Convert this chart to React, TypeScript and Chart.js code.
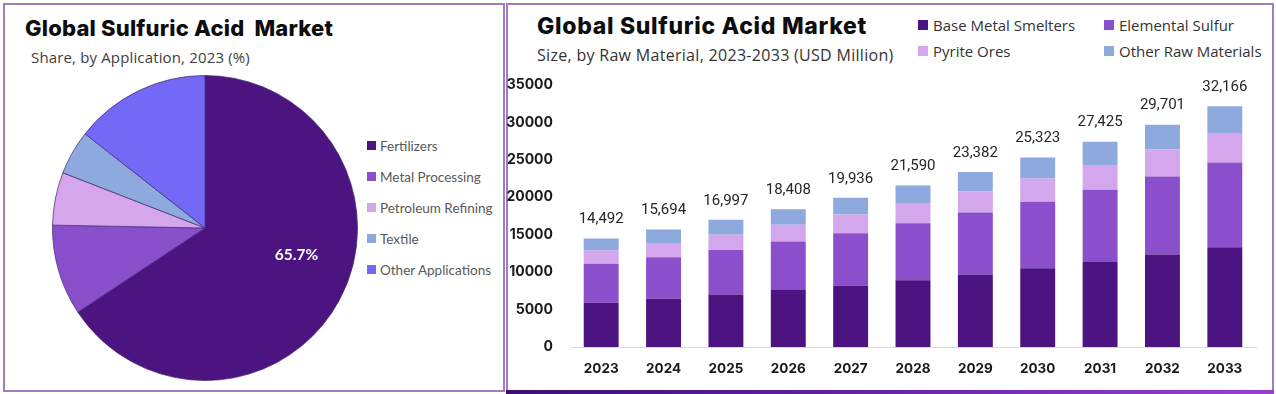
import React, { useEffect, useRef } from "react";
import { Chart, registerables } from "chart.js";

Chart.register(...registerables);

// ---------- Data ----------
const pieLabels = ["Fertilizers", "Metal Processing", "Petroleum Refining", "Textile", "Other Applications"];
const pieShares = [65.7, 9.6, 5.6, 4.7, 14.4];
const pieColors = ["#4b1480", "#8a4fcb", "#d5a6ea", "#8da9dd", "#7468f7"];
const pieLabelText = "65.7%";

const years = ["2023", "2024", "2025", "2026", "2027", "2028", "2029", "2030", "2031", "2032", "2033"];
const baseMetalSmelters = [5918, 6453, 7000, 7600, 8194, 8920, 9670, 10506, 11350, 12360, 13340];
const elementalSulfur = [5187, 5543, 5960, 6480, 7018, 7620, 8300, 8890, 9653, 10420, 11320];
const pyriteOres = [1800, 1894, 2020, 2250, 2472, 2610, 2790, 3098, 3325, 3600, 3830];
const otherRawMaterials = [1587, 1804, 2017, 2078, 2252, 2440, 2622, 2829, 3097, 3321, 3676];
const totals = [14492, 15694, 16997, 18408, 19936, 21590, 23382, 25323, 27425, 29701, 32166];
const barSeriesNames = ["Base Metal Smelters", "Elemental Sulfur", "Pyrite Ores", "Other Raw Materials"];
const barColors = ["#4b1480", "#8b4fcc", "#d4a6eb", "#8ea9dd"];
const yTicks = [0, 5000, 10000, 15000, 20000, 25000, 30000, 35000];

const TITLE_FONT = "Inter, 'Open Sans', sans-serif";
const BODY_FONT = "'Open Sans', Roboto, sans-serif";
const NUM_FONT = "Roboto, 'Open Sans', sans-serif";
const LEGEND_FONT = "Lato, 'Open Sans', sans-serif";

export default function App() {
  const pieRef = useRef<HTMLCanvasElement | null>(null);
  const barRef = useRef<HTMLCanvasElement | null>(null);

  useEffect(() => {
    const pieLabelPlugin = {
      id: "pieLabel",
      afterDatasetsDraw(chart: any) {
        const arc = chart.getDatasetMeta(0).data[0] as any;
        if (!arc) return;
        const { x, y, startAngle, endAngle, outerRadius } = arc.getProps(["x", "y", "startAngle", "endAngle", "outerRadius"], true);
        const a = startAngle + 0.45 * (endAngle - startAngle);
        const r = outerRadius * 0.625;
        const ctx = chart.ctx;
        ctx.save();
        ctx.fillStyle = "#ffffff";
        ctx.font = `bold 15.5px ${LEGEND_FONT}`;
        ctx.textAlign = "center";
        ctx.textBaseline = "middle";
        ctx.fillText(pieLabelText, x + Math.cos(a) * r, y + Math.sin(a) * r);
        ctx.restore();
      },
    };

    const pie = new Chart(pieRef.current as HTMLCanvasElement, {
      type: "pie",
      data: {
        labels: pieLabels,
        datasets: [
          {
            data: pieShares,
            backgroundColor: pieColors,
            borderColor: "rgba(70,45,120,0.75)",
            borderWidth: 1,
          },
        ],
      },
      options: {
        responsive: false,
        maintainAspectRatio: false,
        animation: false,
        layout: { padding: 0 },
        plugins: { legend: { display: false }, tooltip: { enabled: false } },
      },
      plugins: [pieLabelPlugin],
    });

    const totalsPlugin = {
      id: "totals",
      afterDatasetsDraw(chart: any) {
        const meta = chart.getDatasetMeta(3);
        const ctx = chart.ctx;
        ctx.save();
        ctx.fillStyle = "#262626";
        ctx.font = `15px ${NUM_FONT}`;
        ctx.textAlign = "center";
        ctx.textBaseline = "middle";
        meta.data.forEach((el: any, i: number) => {
          ctx.fillText(totals[i].toLocaleString("en-US"), el.x, el.y - 19);
        });
        ctx.restore();
      },
    };

    const seriesValues = [baseMetalSmelters, elementalSulfur, pyriteOres, otherRawMaterials];
    const bar = new Chart(barRef.current as HTMLCanvasElement, {
      type: "bar",
      data: {
        labels: years,
        datasets: seriesValues.map((vals, i) => ({
          label: barSeriesNames[i],
          data: vals,
          backgroundColor: barColors[i],
          borderWidth: 0,
          categoryPercentage: 1,
          barPercentage: 0.56,
          stack: "s",
        })),
      },
      options: {
        responsive: false,
        maintainAspectRatio: false,
        animation: false,
        layout: { padding: { top: 15, right: 16, bottom: 0, left: 0 } },
        plugins: { legend: { display: false }, tooltip: { enabled: false } },
        scales: {
          x: {
            stacked: true,
            grid: { display: false, drawTicks: false },
            border: { display: true, color: "#d9d9d9", width: 1 },
            ticks: {
              padding: 14,
              color: "#1a1a1a",
              font: { family: TITLE_FONT, size: 13.5, weight: "bold" },
            },
            afterFit(scale: any) {
              scale.height = 43;
              scale.paddingLeft = 0;
              scale.paddingRight = 0;
            },
          },
          y: {
            stacked: true,
            min: 0,
            max: 35000,
            afterBuildTicks(scale: any) {
              scale.ticks = yTicks.map((v) => ({ value: v }));
            },
            grid: { display: false, drawTicks: false },
            border: { display: false },
            ticks: {
              padding: 17,
              color: "#1a1a1a",
              font: { family: TITLE_FONT, size: 14, weight: "bold" },
              callback: (v: any) => String(v),
            },
            afterFit(scale: any) {
              scale.width = 64;
              scale.paddingTop = 0;
              scale.paddingBottom = 0;
            },
          },
        },
      },
      plugins: [totalsPlugin],
    });

    return () => {
      pie.destroy();
      bar.destroy();
    };
  }, []);

  const sq = (color: string, size: number, gap: number) => (
    <span
      style={{
        display: "inline-block",
        width: size,
        height: size,
        background: color,
        marginRight: gap,
        verticalAlign: "middle",
      }}
    />
  );

  return (
    <div
      style={{
        position: "absolute",
        left: 0,
        top: 0,
        width: 1276,
        height: 394,
        background: "#ffffff",
        overflow: "hidden",
      }}
    >
      {/* Left panel */}
      <div
        style={{
          position: "absolute",
          left: 3,
          top: 3,
          width: 502,
          height: 389,
          boxSizing: "border-box",
          border: "2px solid #a27cc2",
        }}
      />
      <div
        style={{
          position: "absolute",
          left: 25,
          top: 14,
          fontFamily: TITLE_FONT,
          fontWeight: 800,
          fontSize: 22,
          letterSpacing: 0.2,
          color: "#0d0d0d",
          whiteSpace: "pre",
          lineHeight: "28px",
        }}
      >
        {"Global Sulfuric Acid  Market"}
      </div>
      <div
        style={{
          position: "absolute",
          left: 31,
          top: 46,
          fontFamily: BODY_FONT,
          fontSize: 15,
          letterSpacing: 0.15,
          color: "#404040",
          whiteSpace: "pre",
          lineHeight: "22px",
        }}
      >
        Share, by Application, 2023 (%)
      </div>
      <canvas
        ref={pieRef}
        width={306}
        height={306}
        style={{ position: "absolute", left: 52, top: 75 }}
      />
      {pieLabels.map((lab, i) => (
        <div
          key={lab}
          style={{
            position: "absolute",
            left: 367,
            top: 146 + i * 31 - 12,
            height: 20,
            lineHeight: "20px",
            fontFamily: LEGEND_FONT,
            fontSize: 13.5,
            color: "#595959",
            whiteSpace: "pre",
          }}
        >
          {sq(pieColors[i], 9, 4)}
          <span style={{ verticalAlign: "middle" }}>{lab}</span>
        </div>
      ))}

      {/* Right panel */}
      <div
        style={{
          position: "absolute",
          left: 506,
          top: 3,
          width: 768,
          height: 391,
          boxSizing: "border-box",
          border: "2px solid #a27cc2",
          borderBottom: "none",
        }}
      />
      <div
        style={{
          position: "absolute",
          left: 506,
          top: 390,
          width: 768,
          height: 4,
          background: "linear-gradient(90deg, #3c0f6e 0%, #6a23a8 50%, #9a3fd0 100%)",
        }}
      />
      <div
        style={{
          position: "absolute",
          left: 537,
          top: 11,
          fontFamily: TITLE_FONT,
          fontWeight: 800,
          fontSize: 23,
          letterSpacing: 0.7,
          color: "#0d0d0d",
          whiteSpace: "pre",
          lineHeight: "30px",
        }}
      >
        Global Sulfuric Acid Market
      </div>
      <div
        style={{
          position: "absolute",
          left: 537,
          top: 44,
          fontFamily: BODY_FONT,
          fontSize: 16,
          letterSpacing: 0.3,
          color: "#333333",
          whiteSpace: "pre",
          lineHeight: "22px",
        }}
      >
        Size, by Raw Material, 2023-2033 (USD Million)
      </div>
      {barSeriesNames.map((name, i) => (
        <div
          key={name}
          style={{
            position: "absolute",
            left: i % 2 === 0 ? 918 : 1104,
            top: (i < 2 ? 25.5 : 51.5) - 12.5,
            height: 20,
            lineHeight: "20px",
            fontFamily: BODY_FONT,
            fontSize: 15,
            color: "#333333",
            whiteSpace: "pre",
          }}
        >
          {sq(barColors[i], 10, 5)}
          <span style={{ verticalAlign: "middle" }}>{name}</span>
        </div>
      ))}
      <canvas
        ref={barRef}
        width={766}
        height={320}
        style={{ position: "absolute", left: 506, top: 70 }}
      />
    </div>
  );
}
